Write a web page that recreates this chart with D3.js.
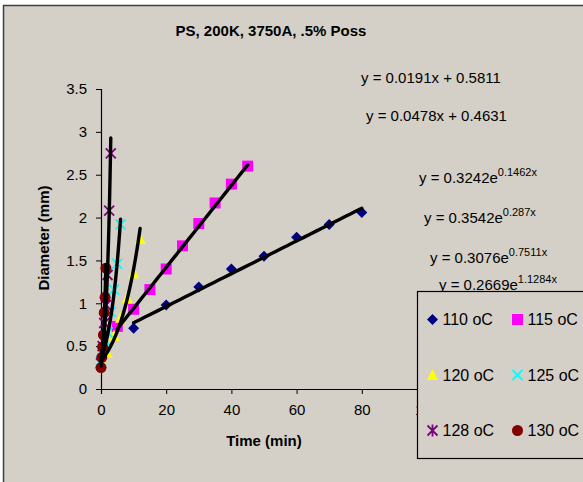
<!DOCTYPE html>
<html>
<head>
<meta charset="utf-8">
<script src="https://cdn.jsdelivr.net/npm/d3@7"></script>
<style>
  body { margin: 0; background: #fff; }
  svg { display: block; font-family: "Liberation Sans", Arial, sans-serif; }
</style>
</head>
<body>
<svg id="chart" width="583" height="482"></svg>
<script>
// series
var seriesNames = ['110 oC', '115 oC', '120 oC', '125 oC', '128 oC', '130 oC'];
var t110 = [10, 20, 30, 40, 50, 60, 70, 80];
var d110 = [0.71, 0.98, 1.19, 1.40, 1.55, 1.77, 1.92, 2.06];
var t115 = [5, 10, 15, 20, 25, 30, 35, 40, 45];
var d115 = [0.73, 0.93, 1.16, 1.40, 1.67, 1.93, 2.17, 2.39, 2.60];
var t120 = [0, 2, 4, 6, 8, 10, 12];
var d120 = [0.33, 0.42, 0.62, 0.83, 1.06, 1.35, 1.75];
var t125 = [0, 1, 2, 3, 4, 5, 6];
var d125 = [0.33, 0.48, 0.66, 0.90, 1.16, 1.46, 1.92];
var t128 = [0, 0.5, 1, 1.5, 2, 2.5, 3];
var d128 = [0.30, 0.50, 0.77, 0.98, 1.33, 2.08, 2.75];
var t130 = [0, 0.25, 0.5, 0.75, 1, 1.25, 1.5];
var d130 = [0.25, 0.37, 0.49, 0.63, 0.89, 1.07, 1.41];

// trendlines (Excel labels)
var fitType = ['lin', 'lin', 'exp', 'exp', 'exp', 'exp'];
var fitA = [0.5811, 0.4631, 0.3242, 0.3542, 0.3076, 0.2669];
var fitB = [0.0191, 0.0478, 0.1462, 0.287, 0.7511, 1.1284];
var eqMain = ['y = 0.0191x + 0.5811', 'y = 0.0478x + 0.4631', 'y = 0.3242e', 'y = 0.3542e', 'y = 0.3076e', 'y = 0.2669e'];
var eqSup = ['', '', '0.1462x', '0.287x', '0.7511x', '1.1284x'];

var xTicks = [0, 20, 40, 60, 80, 100];
var yTicks = [0, 0.5, 1, 1.5, 2, 2.5, 3, 3.5];

var colors = ['#000080', '#ff00ff', '#ffff00', '#00ffff', '#800080', '#800000'];
var shapes = ['diamond', 'square', 'triangle', 'cross', 'star', 'circle'];

var times = [t110, t115, t120, t125, t128, t130];
var diams = [d110, d115, d120, d125, d128, d130];

var svg = d3.select('#chart');
var bg = '#d4d0c8';

// chart area
svg.append('rect')
    .attr('x', 3.5).attr('y', 5.5)
    .attr('width', 620).attr('height', 520)
    .attr('fill', bg)
    .attr('stroke', '#404040')
    .attr('stroke-width', 1.5);

var x = d3.scaleLinear().domain([0, 100]).range([101, 427]);
var y = d3.scaleLinear().domain([0, 3.5]).range([389, 89]);

svg.append('text')
    .attr('x', 271).attr('y', 36)
    .attr('text-anchor', 'middle')
    .attr('font-size', 15).attr('font-weight', 'bold')
    .text('PS, 200K, 3750A, .5% Poss');

// axes
var xAxis = svg.append('g')
    .attr('transform', 'translate(0,' + y(0) + ')')
    .call(d3.axisBottom(x).tickValues(xTicks).tickSizeOuter(0).tickSize(5).tickPadding(10));
var yAxis = svg.append('g')
    .attr('transform', 'translate(' + x(0) + ',0)')
    .call(d3.axisLeft(y).tickValues(yTicks).tickFormat(d3.format('')).tickSizeOuter(0).tickSize(5).tickPadding(9));
[xAxis, yAxis].forEach(function(a) {
  a.select('.domain').attr('stroke', '#000').attr('stroke-width', 1.2);
  a.selectAll('.tick line').attr('stroke', '#000');
  a.selectAll('text').attr('font-size', 15).attr('font-family', '"Liberation Sans", Arial, sans-serif').attr('fill', '#000');
});

svg.append('text')
    .attr('x', 264).attr('y', 446)
    .attr('text-anchor', 'middle')
    .attr('font-size', 15).attr('font-weight', 'bold')
    .text('Time (min)');
svg.append('text')
    .attr('transform', 'translate(49,238) rotate(-90)')
    .attr('text-anchor', 'middle')
    .attr('font-size', 15).attr('font-weight', 'bold')
    .text('Diameter (mm)');

function marker(sel, shape, color) {
  if (shape === 'diamond') {
    sel.append('path').attr('d', 'M0,-5.5L5.5,0L0,5.5L-5.5,0Z').attr('fill', color);
  } else if (shape === 'square') {
    sel.append('rect').attr('x', -5.5).attr('y', -5.5).attr('width', 11).attr('height', 11).attr('fill', color);
  } else if (shape === 'triangle') {
    sel.append('path').attr('d', 'M0,-6L5.5,5L-5.5,5Z').attr('fill', color);
  } else if (shape === 'cross') {
    sel.append('path').attr('d', 'M-5,-5L5,5M5,-5L-5,5').attr('stroke', color).attr('stroke-width', 1.8).attr('fill', 'none');
  } else if (shape === 'star') {
    sel.append('path').attr('d', 'M-5,-5L5,5M5,-5L-5,5M0,-6L0,6').attr('stroke', color).attr('stroke-width', 1.8).attr('fill', 'none');
  } else {
    sel.append('circle').attr('r', 5.5).attr('fill', color);
  }
}

// markers first, trendlines on top, series in order
var plot = svg.append('g');
seriesNames.forEach(function(name, s) {
  var pts = times[s].map(function(t, i) { return { t: t, d: diams[s][i] }; });
  plot.append('g').selectAll('g')
      .data(pts)
      .enter().append('g')
      .attr('transform', function(d) { return 'translate(' + x(d.t) + ',' + y(d.d) + ')'; })
      .each(function() { marker(d3.select(this), shapes[s], colors[s]); });
});

var line = d3.line().x(function(d) { return x(d[0]); }).y(function(d) { return y(d[1]); });
seriesNames.forEach(function(name, s) {
  var t0 = d3.min(times[s]), t1 = d3.max(times[s]);
  var f = function(t) {
    return fitType[s] === 'lin' ? fitA[s] + fitB[s] * t : fitA[s] * Math.exp(fitB[s] * t);
  };
  var pts = d3.range(0, 41).map(function(i) { var t = t0 + (t1 - t0) * i / 40; return [t, f(t)]; });
  plot.append('path')
      .attr('d', line(pts))
      .attr('fill', 'none')
      .attr('stroke', '#000')
      .attr('stroke-width', 3.4)
      .attr('stroke-linecap', 'round');
});

// trendline labels
var eqX = [361, 366, 419, 424, 430, 439];
var eqY = [83, 121, 183, 223, 263, 290];
seriesNames.forEach(function(name, s) {
  var txt = svg.append('text')
      .attr('x', eqX[s]).attr('y', eqY[s])
      .attr('font-size', 15);
  txt.append('tspan').text(eqMain[s]);
  if (eqSup[s]) {
    txt.append('tspan').attr('dy', -7).attr('font-size', 11).text(eqSup[s]);
  }
});

// legend
var leg = svg.append('g').attr('transform', 'translate(417.5,291.5)');
leg.append('rect')
    .attr('width', 200).attr('height', 167)
    .attr('fill', bg).attr('stroke', '#000').attr('stroke-width', 1.2);
var item = leg.selectAll('g.item')
    .data(seriesNames)
    .enter().append('g')
    .attr('class', 'item')
    .attr('transform', function(d, i) { return 'translate(' + (15 + (i % 2) * 85) + ',' + (28 + Math.floor(i / 2) * 55.5) + ')'; });
item.each(function(d, i) { marker(d3.select(this), shapes[i], colors[i]); });
item.append('text')
    .attr('x', 10).attr('dy', '0.35em')
    .attr('font-size', 16)
    .text(function(d) { return d; });
</script>
</body>
</html>
